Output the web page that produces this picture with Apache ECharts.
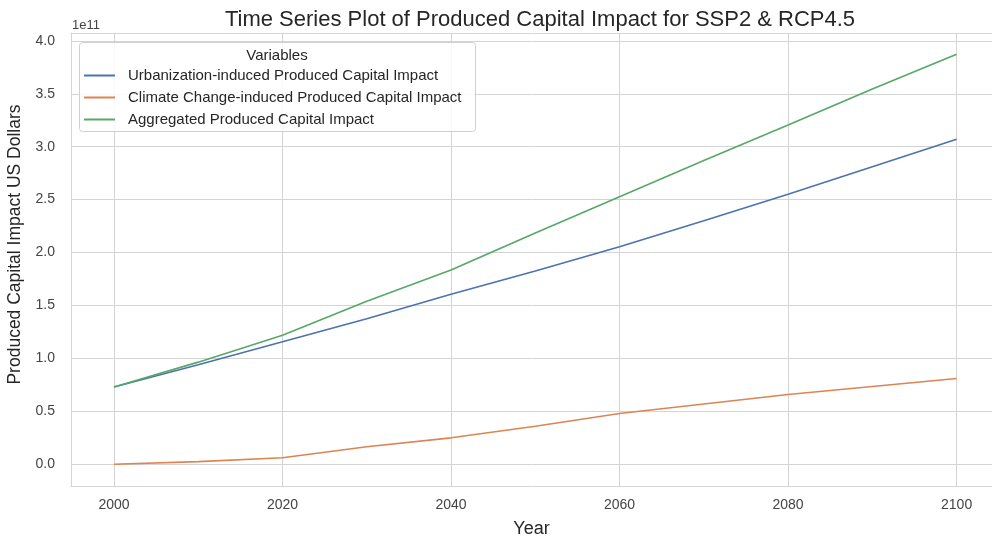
<!DOCTYPE html>
<html>
<head>
<meta charset="utf-8">
<script src="https://cdn.jsdelivr.net/npm/echarts@6/dist/echarts.min.js"></script>
<style>
  html, body { margin: 0; padding: 0; background: #fff; }
  #chart { width: 992px; height: 538px; }
</style>
</head>
<body>
<div id="chart"></div>
<script>
// values in units of 1e11 US dollars
const years = [2000, 2010, 2020, 2030, 2040, 2050, 2060, 2070, 2080, 2090, 2100];
const urbanization = [0.731, 0.94, 1.158, 1.375, 1.607, 1.825, 2.055, 2.3, 2.55, 2.81, 3.07];
const climateChange = [0.0, 0.025, 0.062, 0.166, 0.25, 0.36, 0.48, 0.57, 0.66, 0.735, 0.81];
const aggregated = [0.731, 0.965, 1.22, 1.54, 1.835, 2.185, 2.527, 2.87, 3.204, 3.545, 3.874];
const xTicks = [2000, 2020, 2040, 2060, 2080, 2100];
const yTicks = [0, 0.5, 1, 1.5, 2, 2.5, 3, 3.5, 4];

const seriesNames = [
  "Urbanization-induced Produced Capital Impact",
  "Climate Change-induced Produced Capital Impact",
  "Aggregated Produced Capital Impact",
];
const colors = ["#4c72b0", "#dd8452", "#55a868"];

const chart = echarts.init(document.getElementById("chart"));
const font = "'Liberation Sans', Arial, sans-serif";
const gridColor = "#d4d4d4";

function pairs(vals) {
  return years.map((y, i) => [y, vals[i]]);
}

const xRange = { min: 1994.9, max: 2104.2 };

const option = {
  animation: false,
  textStyle: { fontFamily: font },
  title: {
    text: "Time Series Plot of Produced Capital Impact for SSP2 & RCP4.5",
    left: 535,
    textAlign: "center",
    top: 4,
    textStyle: { fontSize: 22, fontWeight: "normal", color: "#262626", fontFamily: font },
  },
  legend: {
    orient: "vertical",
    left: 79,
    top: 42,
    padding: [25.5, 10, 6, 5],
    itemGap: 6,
    itemWidth: 31,
    itemHeight: 2,
    icon: "rect",
    z: 60,
    textStyle: { fontSize: 15, lineHeight: 16, color: "#262626", padding: [0, 0, 0, 8], fontFamily: font },
    data: seriesNames,
  },
  grid: {
    left: 71,
    right: 0,
    top: 33,
    bottom: 52,
    outerBoundsMode: "none",
  },
  xAxis: [
    {
      type: "value",
      min: xRange.min,
      max: xRange.max,
      name: "Year",
      nameLocation: "middle",
      nameGap: 34,
      nameTextStyle: { fontSize: 18, color: "#262626" },
      axisLine: { show: true, onZero: false, lineStyle: { color: gridColor, width: 1 } },
      axisTick: { show: false, customValues: xTicks },
      axisLabel: {
        customValues: xTicks,
        fontSize: 14,
        color: "#444",
        margin: 12,
        formatter: (v) => String(v),
      },
      splitLine: { show: true, lineStyle: { color: gridColor, width: 1 } },
    },
    {
      type: "value",
      position: "top",
      min: xRange.min,
      max: xRange.max,
      axisLine: { show: true, onZero: false, lineStyle: { color: gridColor, width: 1 } },
      axisTick: { show: false },
      axisLabel: { show: false },
      splitLine: { show: false },
    },
  ],
  yAxis: {
    type: "value",
    min: -0.205,
    max: 4.074,
    name: "Produced Capital Impact US Dollars",
    nameLocation: "middle",
    nameGap: 41,
    nameTextStyle: { fontSize: 17.5, color: "#262626", padding: [0, 0, 0, 30] },
    axisLine: { show: true, onZero: false, lineStyle: { color: gridColor, width: 1 } },
    axisTick: { show: false, customValues: yTicks },
    axisLabel: {
      customValues: yTicks,
      fontSize: 14,
      color: "#444",
      margin: 16,
      formatter: (v) => v.toFixed(1),
    },
    splitLine: { show: true, lineStyle: { color: gridColor, width: 1 } },
  },
  graphic: [
    {
      type: "text",
      left: 72,
      top: 19,
      style: { text: "1e11", fontSize: 13, fill: "#444", fontFamily: font },
    },
    {
      type: "rect",
      shape: { x: 79.5, y: 42.5, width: 396, height: 89, r: 3 },
      style: { fill: "rgba(255,255,255,0.85)", stroke: "#d0d0d0", lineWidth: 1 },
      z: 50,
    },
    {
      type: "text",
      x: 277,
      y: 56,
      style: {
        text: "Variables",
        fontSize: 15,
        fill: "#262626",
        fontFamily: font,
        align: "center",
        verticalAlign: "middle",
      },
      z: 60,
    },
  ],
  series: [urbanization, climateChange, aggregated].map((vals, i) => ({
    name: seriesNames[i],
    type: "line",
    data: pairs(vals),
    symbol: "none",
    lineStyle: { width: 1.6, color: colors[i] },
    itemStyle: { color: colors[i] },
  })),
};

chart.setOption(option);
</script>
</body>
</html>
